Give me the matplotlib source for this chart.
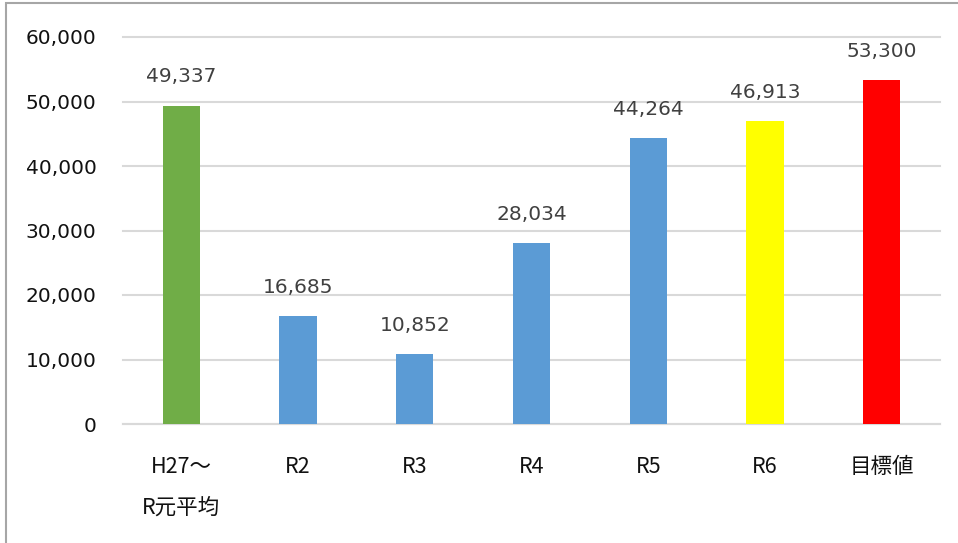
import matplotlib.pyplot as plt
from matplotlib.patches import Rectangle

plt.rcParams['font.family'] = ['DejaVu Sans', 'Noto Sans CJK JP']

categories = ['H27～\nR元平均', 'R2', 'R3', 'R4', 'R5', 'R6', '目標値']
values = [49337, 16685, 10852, 28034, 44264, 46913, 53300]
colors = ['#70AD47', '#5B9BD5', '#5B9BD5', '#5B9BD5', '#5B9BD5', '#FFFF00', '#FF0000']
yticks = [0, 10000, 20000, 30000, 40000, 50000, 60000]

fig = plt.figure(figsize=(9.58, 5.43), dpi=100)
ax = fig.add_axes([123 / 958, 1 - 424 / 543, 817 / 958, 387 / 543])

x = range(len(categories))
bars = ax.bar(x, values, width=0.32, color=colors, zorder=3)

for xi, v in zip(x, values):
    ax.annotate(f'{v:,}', (xi, v), xytext=(0, 14), textcoords='offset points',
                ha='center', va='bottom', fontsize=14.5, color='#404040')

ax.set_xlim(-0.5, len(categories) - 0.5)
ax.set_ylim(0, 60000)
ax.set_yticks(yticks)
ax.set_yticklabels([f'{t:,}' for t in yticks], fontsize=14.5, color='#111111')
ax.set_xticks(list(x))
ax.set_xticklabels(categories, fontsize=15.5, color='#111111', linespacing=2.1,
                   va='top', family=['Noto Sans CJK JP', 'DejaVu Sans'])
ax.tick_params(axis='both', length=0)
ax.tick_params(axis='x', pad=23)
ax.tick_params(axis='y', pad=19)
ax.grid(axis='y', color='#d9d9d9', linewidth=1.5, zorder=0)
for gl in ax.yaxis.get_gridlines():
    gl.set_clip_on(False)
for s in ax.spines.values():
    s.set_visible(False)
ax.axhline(0, color='#d9d9d9', linewidth=1.5, zorder=1, clip_on=False)

# outer chart frame (cut off on right / bottom)
fig.patches.append(Rectangle((6 / 958, -0.05), 1.2, 1.05 - 3 / 543,
                             transform=fig.transFigure, fill=False,
                             edgecolor='#a6a6a6', linewidth=1.5))

fig.savefig('out.png', dpi=100)
